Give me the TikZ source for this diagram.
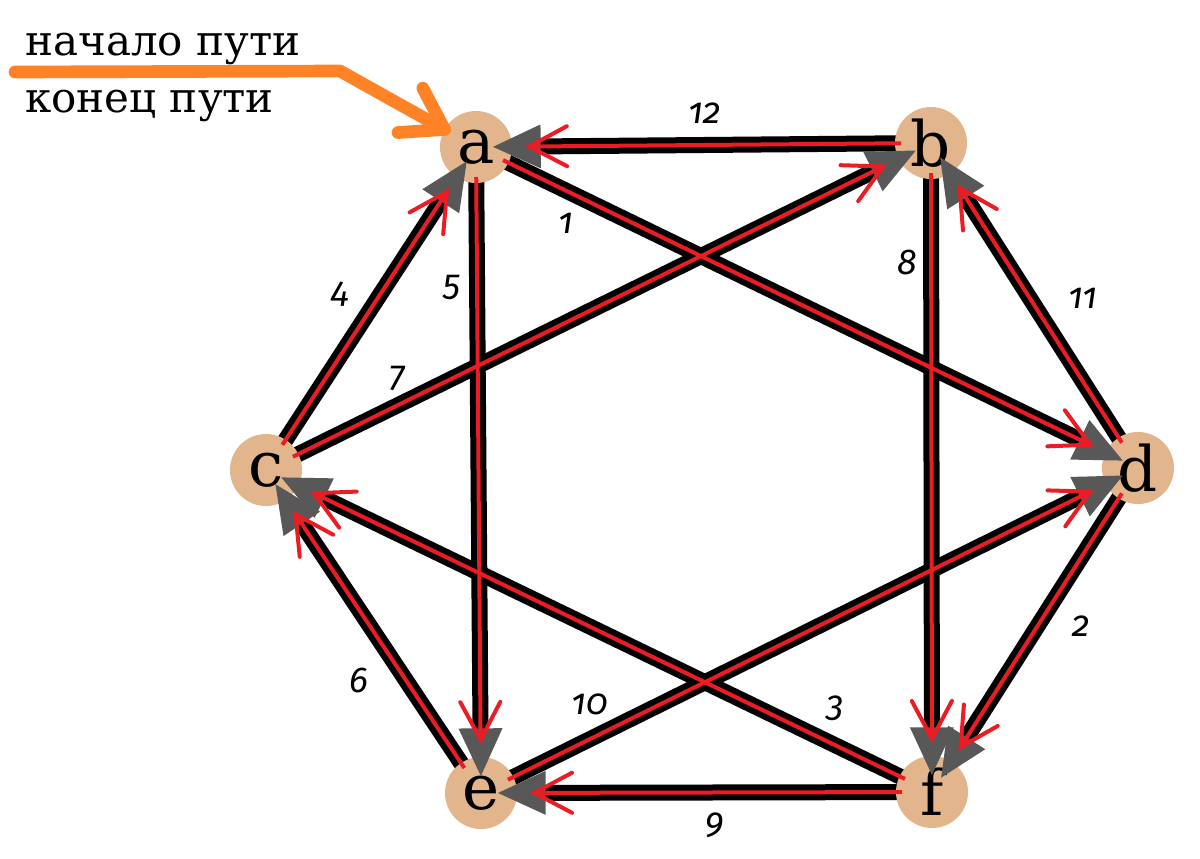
\documentclass[tikz,border=0pt]{standalone}
\usepackage{fontspec}
\setmainfont{DejaVu Serif}
\newfontfamily\numfont[Numbers=OldStyle]{Fira Sans}
\usetikzlibrary{calc}
\pgfdeclarelayer{bg}
\pgfsetlayers{bg,main}
\definecolor{vtan}{RGB}{226,181,141}
\definecolor{vgray}{RGB}{88,88,88}
\definecolor{vred}{RGB}{235,28,36}
\definecolor{vorange}{RGB}{255,130,38}
\tikzset{
  vert/.style={circle,fill=vtan,minimum size=54pt,inner sep=0pt,font=\fontsize{47pt}{50pt}\selectfont},
  blk/.style={draw=black,line width=12pt},
  redl/.style={draw=vred,line width=3pt},
  redchev/.style={draw=vred,line width=3pt,line cap=round,line join=miter},
  grayhead/.style={fill=vgray},
  lbl/.style={font=\numfont\itshape\fontsize{27pt}{30pt}\selectfont,inner sep=1pt},
  ru/.style={anchor=base west,inner sep=0pt,font=\fontsize{31.5pt}{36pt}\selectfont},
  orangearrow/.style={draw=vorange,line width=9.5pt,line cap=round,line join=round}
}
\newcommand\edg[2]{%
  \begin{pgfonlayer}{bg}\draw[blk] (#1.center) -- (#2.center);\end{pgfonlayer}
  \coordinate (gT) at ($(#2.center)!12.75pt!(#1.center)$);
  \coordinate (gM) at ($(#2.center)!48.5pt!(#1.center)$);
  \fill[grayhead] (gT) -- ($(gM)!16.5pt!90:(#2.center)$) -- ($(gM)!16.5pt!-90:(#2.center)$) -- cycle;
  \coordinate (rT) at ($(#2.center)!40pt!(#1.center)$);
  \draw[redl] ($(#1.center)!22.5pt!(#2.center)$) -- (rT);
  \draw[redchev] ($(rT)!32pt!28:(#1.center)$) -- (rT) -- ($(rT)!32pt!-28:(#1.center)$);
}
\begin{document}
\begin{tikzpicture}[x=0.75pt,y=-0.75pt]
\begin{pgfonlayer}{bg}
\fill[white] (0,0) rectangle (1200,858);
\end{pgfonlayer}
\useasboundingbox (0,0) rectangle (1200,858);
\node[vert] (a) at (476,147) {a};
\node[vert] (b) at (931,143) {b};
\node[vert] (c) at (266,470) {c};
\node[vert] (d) at (1138,468) {d};
\node[vert] (e) at (481,793) {e};
\node[vert] (f) at (932,792) {f};
\edg{a}{d}
\edg{d}{f}
\edg{f}{c}
\edg{c}{a}
\edg{a}{e}
\edg{e}{c}
\edg{c}{b}
\edg{b}{f}
\edg{f}{e}
\edg{e}{d}
\edg{d}{b}
\edg{b}{a}
\node[lbl] (l12) at (705,113) {12};
\node[lbl] (l1) at (566,223) {1};
\node[lbl] (l8) at (907,262) {8};
\node[lbl] (l11) at (1083,298) {11};
\node[lbl] (l4) at (340,294) {4};
\node[lbl] (l5) at (452,287) {5};
\node[lbl] (l7) at (397,378) {7};
\node[lbl] (l2) at (1081,626) {2};
\node[lbl] (l6) at (359,680) {6};
\node[lbl] (l10) at (590,704) {10};
\node[lbl] (l3) at (835,708) {3};
\node[lbl] (l9) at (715,825) {9};
\node[ru] (t1) at (25,55) {начало пути};
\node[ru] (t2) at (25,112) {конец пути};
\coordinate (o1) at (15,72);
\coordinate (o2) at (340,71);
\coordinate (oT) at ($(a.center)!27pt!(o2)$);
\draw[orangearrow] (o1) -- (o2) -- (oT);
\draw[orangearrow] ($(oT)!35pt!33:(o2)$) -- (oT) -- ($(oT)!35pt!-33:(o2)$);
\end{tikzpicture}
\end{document}
